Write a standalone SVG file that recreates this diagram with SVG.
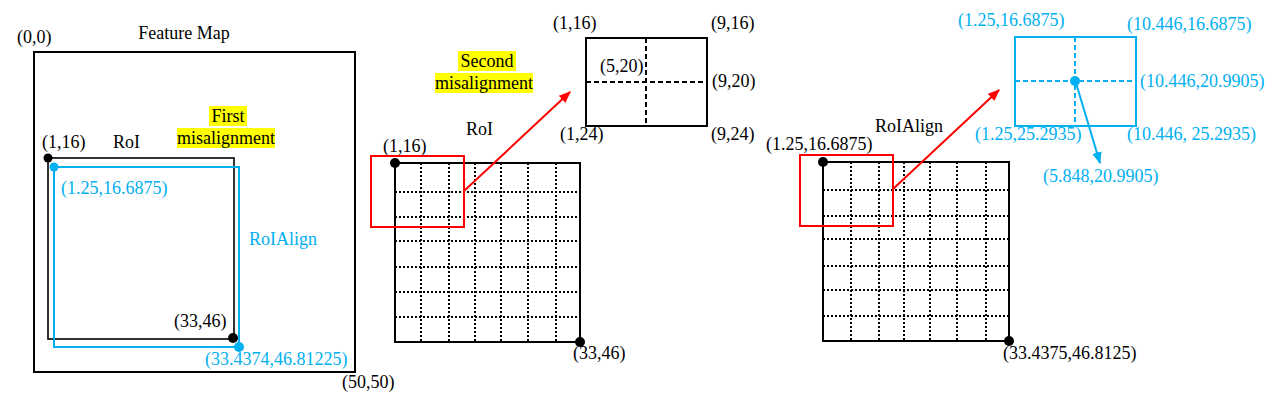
<svg xmlns="http://www.w3.org/2000/svg" width="1280" height="407" viewBox="0 0 1280 407">
<style>
text{font-family:"Liberation Serif","Times New Roman",serif;font-size:18px;fill:#000}
.b{fill:#00B0F0}
.blk{fill:none;stroke:#000;stroke-width:2}
.thin{fill:none;stroke:#000;stroke-width:1.6}
.blu{fill:none;stroke:#00B0F0;stroke-width:2}
.red{fill:none;stroke:#FF0000;stroke-width:2}
.dot{fill:none;stroke:#000;stroke-width:2;stroke-dasharray:2 2}
.dash{fill:none;stroke:#000;stroke-width:2;stroke-dasharray:5 3}
.bdash{fill:none;stroke:#00B0F0;stroke-width:2;stroke-dasharray:5 3}
.hl{fill:#FFFF00}
</style>
<defs>
<marker id="ar" viewBox="0 0 10 10" refX="9" refY="5" markerWidth="6" markerHeight="6" orient="auto"><path d="M0,1 L10,5 L0,9 Z" fill="#FF0000"/></marker>
<marker id="ab" viewBox="0 0 10 10" refX="9" refY="5" markerWidth="6" markerHeight="6" orient="auto"><path d="M0,1 L10,5 L0,9 Z" fill="#00B0F0"/></marker>
</defs>
<rect width="1280" height="407" fill="#fff"/>

<g id="feature-map">
<rect class="blk" x="34" y="52" width="321" height="320"/>
<text x="17" y="43">(0,0)</text>
<text x="184" y="39" text-anchor="middle">Feature Map</text>
<text x="342" y="388">(50,50)</text>
</g>

<g id="roi-left">
<rect class="thin" x="48" y="158" width="186" height="181"/>
<circle cx="48" cy="158" r="4.5" fill="#000"/>
<circle cx="233" cy="338" r="5" fill="#000"/>
<text x="42" y="148">(1,16)</text>
<text x="113" y="148">RoI</text>
<text x="174" y="327">(33,46)</text>
</g>

<g id="first-misalignment">
<rect class="hl" x="209" y="106" width="38" height="20"/>
<rect class="hl" x="177" y="128" width="98" height="20"/>
<text x="228" y="122" text-anchor="middle">First</text>
<text x="226" y="144" text-anchor="middle">misalignment</text>
</g>

<g id="roialign-left">
<rect class="blu" x="54" y="167" width="185" height="180"/>
<circle cx="54" cy="167" r="4.5" fill="#00B0F0"/>
<circle cx="239" cy="347" r="5" fill="#00B0F0"/>
<text class="b" x="61" y="194">(1.25,16.6875)</text>
<text class="b" x="249" y="245">RoIAlign</text>
<text class="b" x="205" y="365">(33.4374,46.81225)</text>
</g>

<g id="roi-grid">
<path class="dot" d="M421,163V342M449,163V342M475,163V342M501,163V342M528,163V342M556,163V342"/>
<path class="dot" d="M395,192H580M395,217H580M395,241H580M395,267H580M395,292H580M395,317H580"/>
<rect class="blk" x="395" y="163" width="185" height="179"/>
<circle cx="395" cy="163" r="5" fill="#000"/>
<circle cx="580" cy="342" r="5" fill="#000"/>
<text x="383" y="152">(1,16)</text>
<text x="466" y="135">RoI</text>
<text x="573" y="359">(33,46)</text>
<rect class="red" x="371" y="156" width="93" height="71"/>
</g>

<g id="second-misalignment">
<rect class="hl" x="458" y="51" width="58" height="20"/>
<rect class="hl" x="435" y="73" width="98" height="20"/>
<text x="487" y="67" text-anchor="middle">Second</text>
<text x="484" y="89" text-anchor="middle">misalignment</text>
</g>

<g id="roi-cell">
<rect class="blk" x="586" y="38" width="121" height="88"/>
<path class="dash" d="M646,38V126M586,82H707"/>
<text x="553" y="29">(1,16)</text>
<text x="711" y="29">(9,16)</text>
<text x="600" y="72">(5,20)</text>
<text x="712" y="87">(9,20)</text>
<text x="560" y="140">(1,24)</text>
<text x="711" y="140">(9,24)</text>
</g>

<g id="roialign-grid">
<path class="dot" d="M851,162V341M879,162V341M904,162V341M930,162V341M957,162V341M986,162V341"/>
<path class="dot" d="M823,190H1009M823,216H1009M823,239H1009M823,266H1009M823,290H1009M823,316H1009"/>
<rect class="blk" x="823" y="162" width="186" height="179"/>
<circle cx="823" cy="162" r="5" fill="#000"/>
<circle cx="1009" cy="341" r="5" fill="#000"/>
<text x="766" y="150">(1.25,16.6875)</text>
<text x="875" y="132">RoIAlign</text>
<text x="1003" y="359">(33.4375,46.8125)</text>
<rect class="red" x="800" y="155" width="93" height="71"/>
</g>

<g id="roialign-cell">
<rect class="blu" x="1015" y="37" width="121" height="89"/>
<path class="bdash" d="M1075,37V126M1015,81H1136"/>
<circle cx="1075" cy="81" r="5" fill="#00B0F0"/>
<text class="b" x="958" y="26">(1.25,16.6875)</text>
<text class="b" x="1127" y="30">(10.446,16.6875)</text>
<text class="b" x="1140" y="87">(10.446,20.9905)</text>
<text class="b" x="975" y="140">(1.25,25.2935)</text>
<text class="b" x="1127" y="140">(10.446, 25.2935)</text>
<text class="b" x="1043" y="182">(5.848,20.9905)</text>
</g>

<g id="connectors">
<line class="red" x1="464" y1="191" x2="570" y2="92" marker-end="url(#ar)"/>
<line class="red" x1="893" y1="189" x2="999" y2="90" marker-end="url(#ar)"/>
<line class="blu" x1="1076" y1="83" x2="1100" y2="163" marker-end="url(#ab)"/>
</g>
</svg>
